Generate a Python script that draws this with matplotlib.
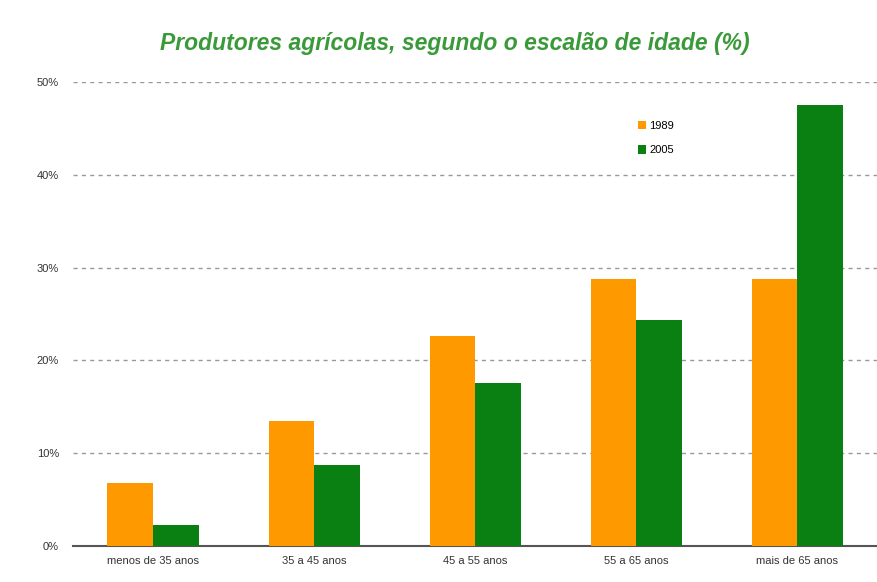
import numpy as np
import matplotlib.pyplot as plt

plt.rcParams['font.family'] = ['Liberation Sans', 'DejaVu Sans']

# Data
categories = ['menos de 35 anos', '35 a 45 anos', '45 a 55 anos', '55 a 65 anos', 'mais de 65 anos']
values_1989 = [6.8, 13.5, 22.6, 28.8, 28.8]
values_2005 = [2.3, 8.7, 17.6, 24.4, 47.5]
yticks = [0, 10, 20, 30, 40, 50]

fig = plt.figure(figsize=(8.78, 5.82), dpi=100)
ax = fig.add_axes([0.083, 0.062, 0.917, 0.797])

x = np.arange(len(categories))
w = 0.285
ax.bar(x - w / 2, values_1989, w, color='#ff9900', label='1989', zorder=3)
ax.bar(x + w / 2, values_2005, w, color='#0a8012', label='2005', zorder=3)

ax.set_xlim(-0.5, len(categories) - 0.5)
ax.set_ylim(0, 50)
ax.set_yticks(yticks)
ax.set_yticklabels([f'{t}%' for t in yticks])
ax.set_xticks(x)
ax.set_xticklabels(categories)
ax.tick_params(axis='both', length=0, labelsize=8, colors='#333333')
ax.tick_params(axis='x', pad=7)
ax.tick_params(axis='y', pad=10)

for t in yticks[1:]:
    ax.axhline(t, color='#999999', linestyle=(0, (3, 3)), linewidth=1, zorder=1)

for s in ['top', 'right', 'left']:
    ax.spines[s].set_visible(False)
ax.spines['bottom'].set_color('#555555')
ax.spines['bottom'].set_linewidth(1.5)

ax.legend(loc='upper left', bbox_to_anchor=(0.69, 0.938), frameon=False,
          fontsize=8, handlelength=0.7, handleheight=0.8, handletextpad=0.3,
          labelspacing=1.3)

fig.text(0.518, 0.926, 'Produtores agrícolas, segundo o escalão de idade (%)',
         ha='center', va='center', fontsize=16.5, fontweight='bold',
         fontstyle='italic', color='#3a9a3a')

fig.savefig('out.png', dpi=100)
